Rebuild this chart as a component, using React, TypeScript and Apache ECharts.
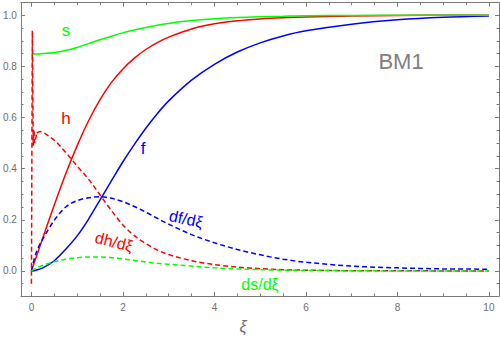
import React, { useEffect, useRef } from "react";
import * as echarts from "echarts";

// common abscissa grid (ξ)
const XI = [0, 0.1, 0.25, 0.5, 0.75, 1, 1.25, 1.5, 1.75, 2, 2.25, 2.5, 2.75, 3, 3.5, 4, 4.5, 5, 5.5, 6, 7, 8, 9, 10];
const fVal = [0, 0.003, 0.012, 0.04, 0.085, 0.137, 0.203, 0.278, 0.353, 0.427, 0.495, 0.558, 0.615, 0.665, 0.746, 0.808, 0.856, 0.892, 0.919, 0.939, 0.965, 0.982, 0.992, 0.997];
const hVal = [0, 0.052, 0.13, 0.258, 0.38, 0.49, 0.5875, 0.67, 0.7375, 0.79, 0.832, 0.866, 0.893, 0.9145, 0.9465, 0.9665, 0.9785, 0.9855, 0.99, 0.993, 0.997, 0.999, 1.0, 1.0];
const sVal = [0.848, 0.848, 0.85, 0.854, 0.862, 0.874, 0.889, 0.904, 0.918, 0.931, 0.942, 0.952, 0.961, 0.968, 0.979, 0.986, 0.991, 0.994, 0.996, 0.998, 0.999, 1.0, 1.0, 1.0];
const dfVal = [0, 0.07, 0.125, 0.198, 0.25, 0.275, 0.286, 0.29, 0.284, 0.271, 0.252, 0.23, 0.206, 0.183, 0.142, 0.11, 0.084, 0.063, 0.046, 0.034, 0.019, 0.012, 0.008, 0.007];
const dsVal = [0, 0.012, 0.022, 0.036, 0.046, 0.052, 0.055, 0.055, 0.052, 0.047, 0.041, 0.035, 0.03, 0.026, 0.019, 0.012, 0.008, 0.005, 0.003, 0.002, 0.001, 0, 0, 0];

// dh/dξ: numerical spike near ξ = 0, then the smooth part
const dhSpikeXi = [0, 0.02, 0.04, 0.055, 0.07, 0.12];
const dhSpikeVal = [-0.05, 0.94, 0.49, 0.55, 0.5, 0.54];
const dhXi = [0.12, 0.2, 0.3, 0.53, 0.79, 1, 1.26, 1.5, 1.75, 2, 2.25, 2.5, 2.75, 3, 3.5, 4, 4.5, 5, 5.5, 6, 7, 8, 9, 10];
const dhVal = [0.54, 0.545, 0.537, 0.506, 0.455, 0.41, 0.356, 0.297, 0.236, 0.18, 0.138, 0.107, 0.082, 0.064, 0.04, 0.025, 0.015, 0.009, 0.005, 0.003, 0.001, 0.001, 0, 0];

// axes / ticks
const X_MIN = -0.23;
const X_MAX = 10.22;
const Y_MIN = -0.098;
const Y_MAX = 1.049;
const xMajor = [0, 2, 4, 6, 8, 10];
const xMinor = [0.5, 1, 1.5, 2.5, 3, 3.5, 4.5, 5, 5.5, 6.5, 7, 7.5, 8.5, 9, 9.5];
const yMajor = [0, 0.2, 0.4, 0.6, 0.8, 1.0];
const yMinor = [-0.05, 0.05, 0.1, 0.15, 0.25, 0.3, 0.35, 0.45, 0.5, 0.55, 0.65, 0.7, 0.75, 0.85, 0.9, 0.95];

const FRAME = "#7a7a7a";
const LABEL = "#6e6e6e";
const FONT = "'Liberation Sans', Arial, sans-serif";

const RED = "#ff0000";
const BLUE = "#0000ff";
const GREEN = "#00ff00";

function pairs(xs: number[], ys: number[]) {
  return xs.map((x, i) => [x, ys[i]]);
}

function makeAxis(kind: "x" | "y", position: string, ticks: number[], len: number, line: boolean, labels: number[] | null) {
  return {
    type: "value",
    gridIndex: 0,
    position,
    min: kind === "x" ? X_MIN : Y_MIN,
    max: kind === "x" ? X_MAX : Y_MAX,
    axisLine: { show: line, onZero: false, lineStyle: { color: FRAME, width: 1 } },
    axisTick: { show: true, inside: true, length: len, customValues: ticks, lineStyle: { color: FRAME, width: 1 } },
    axisLabel: labels
      ? {
          show: true,
          customValues: labels,
          color: LABEL,
          fontSize: 10,
          fontFamily: FONT,
          margin: kind === "x" ? 6 : 4,
          formatter: (v: number) => (kind === "x" ? String(Math.round(v)) : v.toFixed(1)),
        }
      : { show: false },
    splitLine: { show: false },
    minorTick: { show: false },
  };
}

function lineSeries(name: string, data: number[][], color: string, dashed: boolean, smooth: number | boolean) {
  return {
    type: "line",
    name,
    data,
    xAxisIndex: 0,
    yAxisIndex: 0,
    showSymbol: false,
    symbol: "none",
    smooth,
    silent: true,
    clip: true,
    lineStyle: { color, width: 1.5, type: dashed ? [5, 3] : "solid" },
  };
}

export default function App() {
  const ref = useRef<HTMLDivElement>(null);

  useEffect(() => {
    document.body.style.margin = "0";
    if (!ref.current) return;
    const chart = echarts.init(ref.current, undefined, { renderer: "svg" });

    const text = (t: string, x: number, y: number, color: string, size: number, rotation = 0, style = "normal") => ({
      type: "text",
      x,
      y,
      rotation,
      silent: true,
      style: {
        text: t,
        fill: color,
        font: `${style} ${size}px ${FONT}`,
        align: "center",
        verticalAlign: "middle",
      },
    });

    chart.setOption({
      animation: false,
      backgroundColor: "#ffffff",
      grid: { left: 18, right: 1, top: 2.7, bottom: 41, containLabel: false },
      xAxis: [
        makeAxis("x", "bottom", xMajor, 4, true, xMajor),
        makeAxis("x", "bottom", xMinor, 2.5, false, null),
        makeAxis("x", "top", xMajor, 4, true, null),
        makeAxis("x", "top", xMinor, 2.5, false, null),
      ],
      yAxis: [
        makeAxis("y", "left", yMajor, 4, true, yMajor),
        makeAxis("y", "left", yMinor, 2.5, false, null),
        makeAxis("y", "right", yMajor, 4, true, null),
        makeAxis("y", "right", yMinor, 2.5, false, null),
      ],
      series: [
        lineSeries("f", pairs(XI, fVal), BLUE, false, 0.33),
        lineSeries("h", pairs(XI, hVal), RED, false, 0.33),
        lineSeries("s", pairs(XI, sVal), GREEN, false, 0.33),
        lineSeries("df/dξ", pairs(XI, dfVal), BLUE, true, 0.33),
        lineSeries("dh/dξ spike", pairs(dhSpikeXi, dhSpikeVal), RED, true, false),
        lineSeries("dh/dξ", pairs(dhXi, dhVal), RED, true, 0.33),
        lineSeries("ds/dξ", pairs(XI, dsVal), GREEN, true, 0.33),
      ],
      graphic: [
        text("s", 66, 30, GREEN, 17),
        text("h", 66, 118, RED, 17),
        text("f", 143, 148, BLUE, 17),
        text("df/dξ", 186, 219, BLUE, 16, -0.21),
        text("dh/dξ", 114, 242, RED, 16, -0.25),
        text("ds/dξ", 260, 284, GREEN, 16),
        text("BM1", 401, 61, "#808080", 22),
        text("ξ", 243, 326, LABEL, 16, 0, "italic"),
      ],
    });

    return () => chart.dispose();
  }, []);

  return <div ref={ref} style={{ position: "fixed", left: 0, top: 0, width: 500, height: 337 }} />;
}
